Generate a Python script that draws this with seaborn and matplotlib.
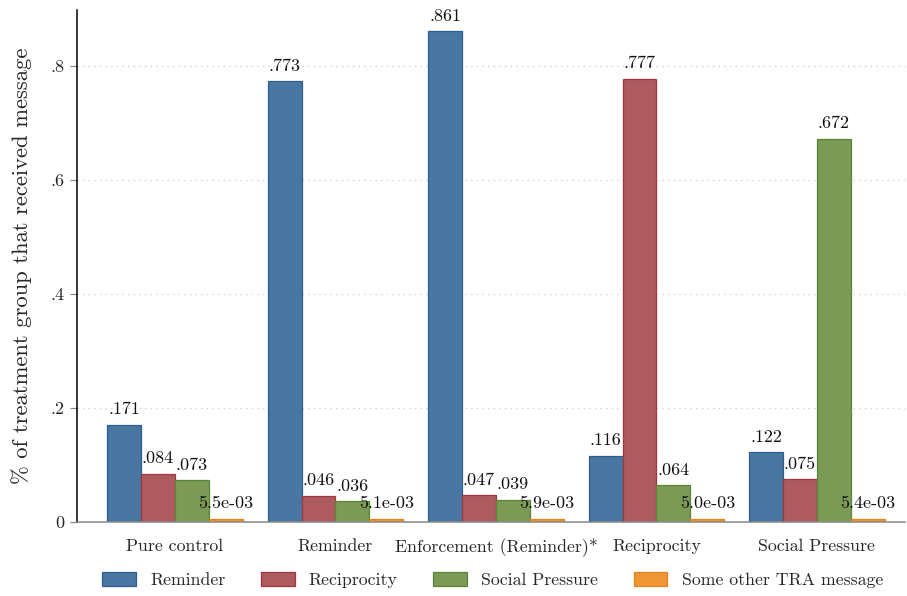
import matplotlib
matplotlib.use("Agg")
import matplotlib.pyplot as plt
import seaborn as sns
import pandas as pd

# Share of each treatment group that received each message type
groups = ["Pure control", "Reminder", "Enforcement (Reminder)*", "Reciprocity", "Social Pressure"]
messages = ["Reminder", "Reciprocity", "Social Pressure", "Some other TRA message"]
reminder = [0.171, 0.773, 0.861, 0.116, 0.122]
reciprocity = [0.084, 0.046, 0.047, 0.777, 0.075]
social_pressure = [0.073, 0.036, 0.039, 0.064, 0.672]
other_tra = [0.0055, 0.0051, 0.0059, 0.0050, 0.0054]
y_ticks = [0, 0.2, 0.4, 0.6, 0.8]
y_tick_labels = ["0", ".2", ".4", ".6", ".8"]

fills = ["#4a77a1", "#ad5b5e", "#7a9a56", "#ec9636"]
edges = ["#2c5f91", "#a0373e", "#5a8737", "#e6841a"]

series = [reminder, reciprocity, social_pressure, other_tra]
df = pd.DataFrame(
    [(g, m, v) for m, vals in zip(messages, series) for g, v in zip(groups, vals)],
    columns=["group", "message", "share"],
)

sns.set_theme(style="white")
plt.rcParams["font.family"] = ["cmr10", "DejaVu Serif"]
plt.rcParams["axes.formatter.use_mathtext"] = True

fig = plt.figure(figsize=(9.07, 5.96), dpi=100)
ax = fig.add_axes([0.0849, 0.1242, 0.9131, 0.8588])

sns.barplot(
    data=df, x="group", y="share", hue="message",
    order=groups, hue_order=messages, palette=fills,
    width=0.845, saturation=1, errorbar=None, legend=False, ax=ax,
)

for cont, ec in zip(ax.containers, edges):
    for bar in cont:
        bar.set_edgecolor(ec)
        bar.set_linewidth(0.9)


def fmt(v):
    if v < 0.01:
        return f"{v:.1e}"
    return f"{v:.3f}".lstrip("0")


for cont, vals in zip(ax.containers, series):
    ax.bar_label(cont, labels=[fmt(v) for v in vals], padding=5.5, fontsize=13, color="#111111")

ax.set_xlim(-0.61, 4.55)
ax.set_ylim(0, 0.898)
ax.set_yticks(y_ticks)
ax.set_yticklabels(y_tick_labels, fontsize=13)
ax.tick_params(axis="x", labelsize=12.8, length=0, pad=12)
ax.tick_params(axis="y", left=True, length=5, width=0.9, color="#888888", pad=4)
ax.set_xlabel("")
ax.set_ylabel("% of treatment group that received message", fontsize=16.3, labelpad=13)

for y in y_ticks[1:]:
    ax.axhline(y, color="#c8c8c8", lw=0.9, ls=(0, (1, 3.5)), zorder=0)

for s in ["top", "right"]:
    ax.spines[s].set_visible(False)
ax.spines["left"].set_color("black")
ax.spines["left"].set_linewidth(1.1)
ax.spines["bottom"].set_color("#888888")
ax.spines["bottom"].set_linewidth(1.1)

handles = [plt.Rectangle((0, 0), 1, 1, facecolor=f, edgecolor=e, lw=0.9) for f, e in zip(fills, edges)]
fig.legend(
    handles, messages, loc="center", bbox_to_anchor=(0.543, 0.027), ncol=4,
    frameon=False, fontsize=12.8, handlelength=1.9, handleheight=0.8,
    handletextpad=0.8, columnspacing=2.0,
)

fig.savefig("out.png", dpi=100)
